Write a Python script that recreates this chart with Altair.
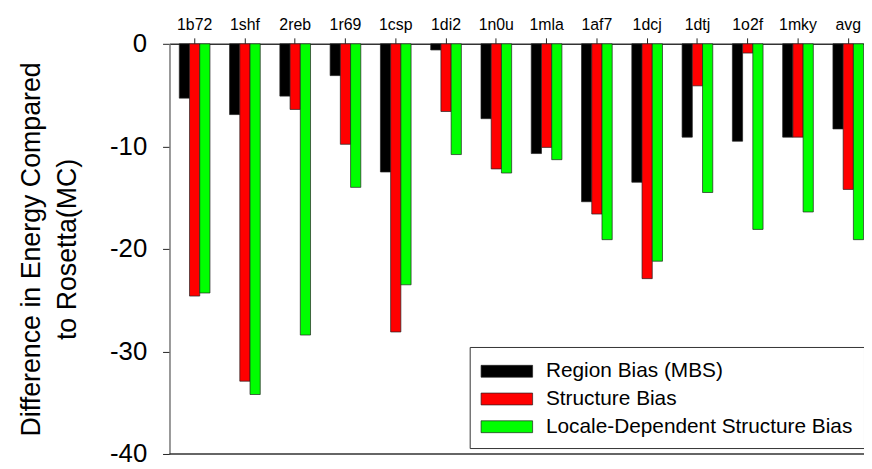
import altair as alt
import pandas as pd

proteins = ["1b72", "1shf", "2reb", "1r69", "1csp", "1di2", "1n0u", "1mla",
            "1af7", "1dcj", "1dtj", "1o2f", "1mky", "avg"]
series = ["Region Bias (MBS)", "Structure Bias", "Locale-Dependent Structure Bias"]
colors = ["#000000", "#ff0000", "#00ff00"]

region_bias = [-5.3, -6.9, -5.1, -3.1, -12.5, -0.6, -7.3, -10.7, -15.4, -13.5, -9.1, -9.5, -9.1, -8.3]
structure_bias = [-24.6, -32.9, -6.4, -9.8, -28.1, -6.6, -12.2, -10.1, -16.6, -22.9, -4.1, -0.9, -9.1, -14.2]
locale_bias = [-24.3, -34.2, -28.4, -14.0, -23.5, -10.8, -12.6, -11.3, -19.1, -21.2, -14.5, -18.1, -16.4, -19.1]

rows = []
for i, p in enumerate(proteins):
    for s, vals in zip(series, [region_bias, structure_bias, locale_bias]):
        rows.append({"protein": p, "series": s, "value": vals[i]})
df = pd.DataFrame(rows)

FONT = "Liberation Sans"

bars = alt.Chart(df).mark_bar(stroke="#222222", strokeWidth=0.7).encode(
    x=alt.X("protein:N", sort=proteins,
            scale=alt.Scale(range=[0, 710.5], paddingInner=0.39, paddingOuter=0.195),
            axis=alt.Axis(orient="top", title=None, labelAngle=0, labelFontSize=16,
                          labelColor="black", tickSize=6, tickColor="#222222",
                          domainColor="#333333", domainWidth=1.5, labelPadding=5)),
    xOffset=alt.XOffset("series:N", sort=series, scale=alt.Scale(paddingInner=0, paddingOuter=0)),
    y=alt.Y("value:Q",
            scale=alt.Scale(domain=[-40, 0], nice=False),
            axis=alt.Axis(values=[0, -10, -20, -30, -40], grid=False, tickSize=7,
                          tickColor="#222222", labelFontSize=26, labelColor="black",
                          labelExpr="toString(datum.value)",
                          labelPadding=16, domainColor="#777777", domainWidth=1.5,
                          title=["Difference in Energy Compared", "to Rosetta(MC)"],
                          titleFontSize=27, titleFontWeight="normal", titleColor="black",
                          titleLineHeight=37, titlePadding=28)),
    color=alt.Color("series:N", sort=series,
                    scale=alt.Scale(domain=series, range=colors),
                    legend=alt.Legend(orient="none", legendX=303, legendY=306, title=None,
                                      strokeColor="#333333", fillColor="white", padding=11,
                                      symbolType="M-1,-0.46H3V0.46H-1Z", symbolSize=676,
                                      symbolStrokeColor="#222222", symbolStrokeWidth=0.7,
                                      labelFontSize=21, labelColor="black", labelOffset=39,
                                      rowPadding=4, labelLimit=400)),
)

bottom = alt.Chart(pd.DataFrame({"v": [-40]})).mark_rule(color="#333333", strokeWidth=1.5).encode(
    y=alt.Y("v:Q")
)

chart = alt.layer(bars, bottom).properties(
    width=701, height=414,
    autosize=alt.AutoSizeParams(type="none"),
    padding={"left": 163, "top": 34, "right": 0, "bottom": 12},
).configure(font=FONT).configure_view(stroke=None)

chart.save("out.html", embed_options={"renderer": "svg", "actions": False})
